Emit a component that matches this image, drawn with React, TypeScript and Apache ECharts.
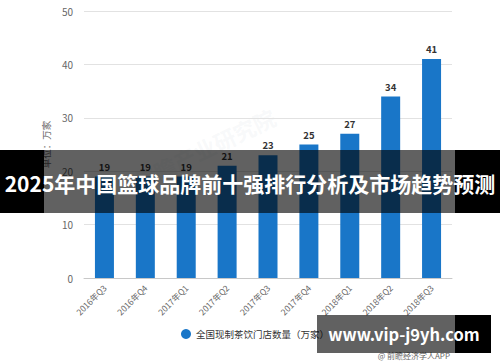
import React, { useEffect, useRef } from "react";
import * as echarts from "echarts";

const categories = ["2016年Q3", "2016年Q4", "2017年Q1", "2017年Q2", "2017年Q3", "2017年Q4", "2018年Q1", "2018年Q2", "2018年Q3"];
const storeCounts = [19, 19, 19, 21, 23, 25, 27, 34, 41];
const seriesName = "全国现制茶饮门店数量（万家）";
const yTicks = { min: 0, max: 50, interval: 10 };
const bannerText = "2025年中国篮球品牌前十强排行分析及市场趋势预测";
const siteText = "www.vip-j9yh.com";
const sourceText = "@ 前瞻经济学人APP";
const watermark = "前瞻产业研究院";

export default function App() {
  const ref = useRef<HTMLDivElement>(null);
  useEffect(() => {
    if (!ref.current) return;
    const chart = echarts.init(ref.current, null, { renderer: "svg" });
    const font = "'Noto Sans CJK SC', 'Noto Sans', sans-serif";
    chart.setOption({
      animation: false,
      backgroundColor: "#ffffff",
      textStyle: { fontFamily: font },
      grid: { left: 84, right: 48, top: 11, bottom: 84 },
      legend: {
        data: [seriesName],
        bottom: 18,
        left: 176,
        icon: "circle",
        itemWidth: 10,
        itemHeight: 10,
        itemGap: 6,
        textStyle: { fontSize: 9.5, color: "#333", fontFamily: font },
      },
      xAxis: {
        type: "category",
        data: categories,
        axisTick: { alignWithLabel: true, lineStyle: { color: "#bbb" } },
        axisLine: { lineStyle: { color: "#c8c8c8" } },
        axisLabel: { rotate: 45, fontSize: 8.5, color: "#666", margin: 8, fontFamily: font },
      },
      yAxis: {
        type: "value",
        min: yTicks.min,
        max: yTicks.max,
        interval: yTicks.interval,
        name: "单位：万家",
        nameLocation: "middle",
        nameGap: 27,
        nameTextStyle: { fontSize: 9.5, color: "#666", fontFamily: font },
        axisLine: { show: false },
        axisTick: { show: false },
        axisLabel: { fontSize: 10, color: "#666", margin: 11, fontFamily: font },
        splitLine: { lineStyle: { color: "#e2e2e2" } },
      },
      series: [
        {
          name: seriesName,
          type: "bar",
          data: storeCounts,
          barWidth: 19,
          itemStyle: { color: "#1976c8" },
          label: { show: true, position: "top", fontSize: 9.5, fontWeight: "bold", color: "#333", distance: 5, fontFamily: font },
        },
      ],
      graphic: [
        {
          type: "text",
          left: 130,
          top: 105,
          rotation: Math.PI / 7,
          style: { text: watermark, fontSize: 22, fill: "rgba(200,210,220,0.14)", fontFamily: font, fontWeight: "bold" },
          z: 0,
        },
        { type: "rect", shape: { x: 0, y: 150, width: 44, height: 63 }, style: { fill: "#000" }, z: 100 },
        { type: "rect", shape: { x: 44, y: 150, width: 411, height: 63 }, style: { fill: "rgba(0,0,0,0.62)" }, z: 100 },
        { type: "rect", shape: { x: 455, y: 150, width: 45, height: 63 }, style: { fill: "#000" }, z: 100 },
        {
          type: "text",
          x: 250,
          y: 183,
          z: 101,
          style: {
            text: bannerText,
            fill: "#fff",
            fontSize: 21,
            fontWeight: "bold",
            fontFamily: font,
            align: "center",
            verticalAlign: "middle",
          },
        },
        { type: "rect", shape: { x: 317, y: 315, width: 138, height: 38 }, style: { fill: "rgba(0,0,0,0.62)" }, z: 100 },
        { type: "rect", shape: { x: 455, y: 315, width: 36, height: 38 }, style: { fill: "#000" }, z: 100 },
        {
          type: "text",
          x: 404,
          y: 334,
          z: 101,
          style: {
            text: siteText,
            fill: "#fff",
            fontSize: 16.5,
            fontWeight: "bold",
            fontFamily: font,
            align: "center",
            verticalAlign: "middle",
          },
        },
        {
          type: "text",
          x: 450,
          y: 355,
          z: 99,
          style: {
            text: sourceText,
            fill: "#666",
            fontSize: 8,
            fontFamily: font,
            align: "right",
            verticalAlign: "middle",
          },
        },
      ],
    });
    return () => chart.dispose();
  }, []);
  return <div ref={ref} style={{ width: 500, height: 362, position: "absolute", left: 0, top: 0 }} />;
}
